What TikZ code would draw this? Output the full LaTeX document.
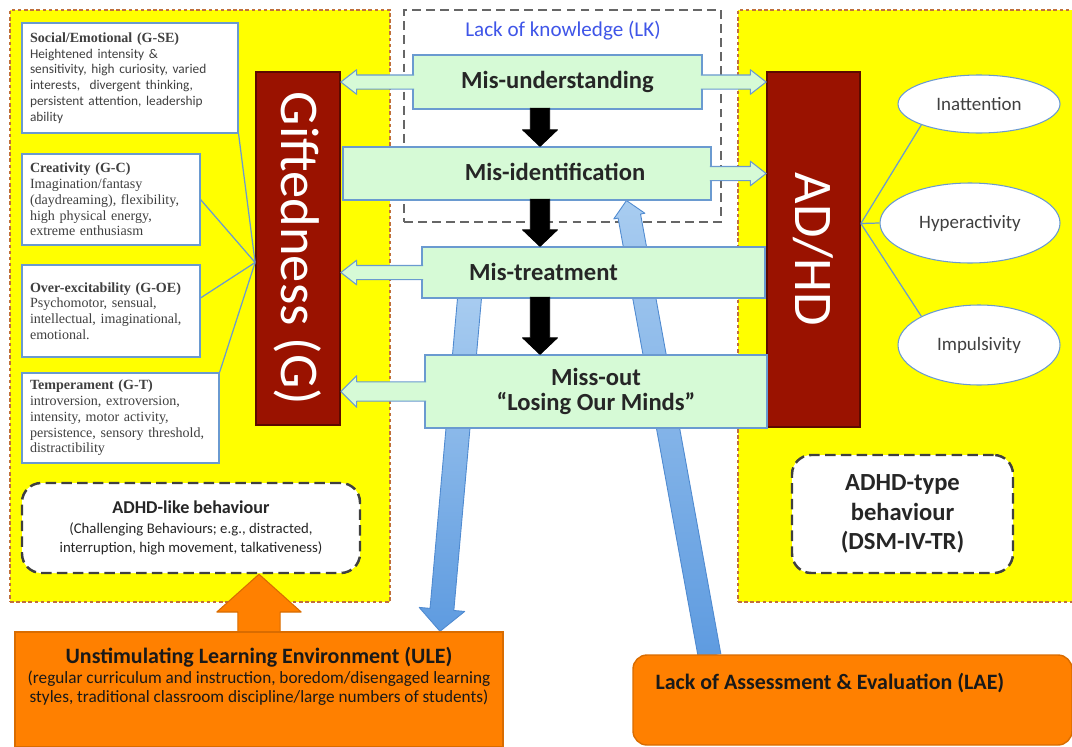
\documentclass[tikz,border=0pt]{standalone}
\usepackage{fontspec}
\setmainfont{Carlito}
\newfontfamily\serifbox{Liberation Serif}
\usepackage{graphicx}
\usepackage{tikz}
\usetikzlibrary{positioning,calc,shapes.geometric}
\pgfdeclarelayer{bg}
\pgfsetlayers{bg,main}
\definecolor{GYellow}{HTML}{FFFF00}
\definecolor{GZone}{HTML}{C0703C}
\definecolor{GMint}{HTML}{D6FAD6}
\definecolor{GLine}{HTML}{6A9AD0}
\definecolor{GRed}{HTML}{9A1200}
\definecolor{GRedDark}{HTML}{5C0A00}
\definecolor{GSky}{HTML}{A8CCF0}
\definecolor{GSkyDeep}{HTML}{5E9BE0}
\definecolor{GSkyDark}{HTML}{4F8AD0}
\definecolor{GOrange}{HTML}{FF8000}
\definecolor{GOrangeDark}{HTML}{D96C00}
\definecolor{GText}{HTML}{404040}
\definecolor{GKnow}{HTML}{3F55E8}

\newcommand{\blockarrow}[6]{%
  \coordinate (bah) at ($(#3)!#6!(#2)$);
  \coordinate (bas) at ($(#2)!-1pt!(#3)$);
  \path[#1, draw=none] ($(bas)!#4!90:(#3)$) -- ($(bah)!#4!90:(#3)$) -- ($(bah)!#5!90:(#3)$) -- (#3) -- ($(bah)!#5!-90:(#3)$) -- ($(bah)!#4!-90:(#3)$) -- ($(bas)!#4!-90:(#3)$) -- cycle;
  \path[draw=none, #1, fill=none, shade=false, line join=round] ($(bas)!#4!90:(#3)$) -- ($(bah)!#4!90:(#3)$) -- ($(bah)!#5!90:(#3)$) -- (#3) -- ($(bah)!#5!-90:(#3)$) -- ($(bah)!#4!-90:(#3)$) -- ($(bas)!#4!-90:(#3)$);
}

\begin{document}
\begin{tikzpicture}[x=0.02cm, y=-0.02cm,
  dims/.style 2 args={minimum width=#1*0.02cm, minimum height=#2*0.02cm},
  zone/.style={draw=GZone, fill=GYellow, dash pattern=on 2pt off 1.5pt, line width=0.8pt},
  know/.style={draw=black!60, fill=white, dash pattern=on 5pt off 3pt, line width=1.2pt},
  pillar/.style={draw=GRedDark, fill=GRed, line width=1pt, text=white, inner sep=0, font=\fontsize{31}{34}\selectfont},
  mistext/.style={text=black!85, font=\fontsize{14}{14.5}\selectfont\bfseries},
  greenbox/.style={mistext, draw=GLine, fill=GMint, line width=0.6pt, inner sep=0, align=center},
  greenarrow/.style={draw=GLine, fill=GMint, line width=0.6pt},
  flow/.style={draw=black, fill=black, line width=0.4pt},
  sky/.style={draw=GSkyDark, top color=GSky, bottom color=GSkyDeep, line width=0.5pt},
  orangearrow/.style={draw=GOrangeDark, fill=GOrange, line width=0.6pt},
  trait/.style={draw=GLine, fill=white, line width=0.6pt, align=left, inner xsep=0.16cm, inner ysep=0, text=GText, font=\serifbox\fontsize{8}{9}\selectfont},
  link/.style={draw=GLine, line width=0.7pt},
  symptom/.style={ellipse, draw=GLine, fill=white, line width=0.6pt, inner sep=0, text=GText, font=\fontsize{10.8}{12}\selectfont},
  behave/.style={draw=black!75, fill=white, rounded corners=11pt, dash pattern=on 6pt off 3pt, line width=1.4pt, align=center, inner sep=0, text=black!85},
  orangebox/.style={draw=GOrangeDark, fill=GOrange, line width=0.8pt, inner sep=0},
  otext/.style={text=black!90, align=center, font=\fontsize{9.8}{11}\selectfont}
]
  \useasboundingbox (0,0) rectangle (1072,747);

  \node[pillar, dims={84}{353}] (gift) at (298,248.5) {\rotatebox{-90}{Giftedness (G)}};
  \node[pillar, dims={93}{355}] (adhd) at (813.5,249.5) {\rotatebox{-90}{AD/HD}};
  \node[text=GKnow, font=\fontsize{12}{14}\selectfont] (lkt) at (563,31) {Lack of knowledge (LK)};

  \node[greenbox, dims={289}{54}] (mu) at (557.5,82) {Mis-understanding};
  \node[greenbox, dims={368}{53}] (mi) at (527,173.5) {};
  \node[greenbox, dims={343}{51}] (mt) at (593.5,272.5) {};
  \node[greenbox, dims={342}{73}] (mo) at (596,391.5) {Miss-out\\“Losing Our Minds”};
  \node[mistext] (mit) at ($(mi)+(28,-2)$) {Mis-identification};
  \node[mistext] (mtt) at ($(mt)+(-50,-1)$) {Mis-treatment};

  \blockarrow{greenarrow}{mu.west}{gift.east |- mu.west}{4pt}{7pt}{9pt}
  \blockarrow{greenarrow}{mu.east}{adhd.west |- mu.east}{4pt}{7pt}{9pt}
  \blockarrow{greenarrow}{mi.east}{adhd.west |- mi.east}{4pt}{7pt}{9pt}
  \blockarrow{greenarrow}{mt.west}{gift.east |- mt.west}{4pt}{7pt}{9pt}
  \blockarrow{greenarrow}{mo.west}{gift.east |- mo.west}{5.5pt}{9pt}{9pt}

  \coordinate (col) at (540,0);
  \blockarrow{flow}{mu.south -| col}{mi.north -| col}{5.5pt}{10pt}{9.5pt}
  \blockarrow{flow}{mi.south -| col}{mt.north -| col}{5.5pt}{10pt}{9.5pt}
  \blockarrow{flow}{mt.south -| col}{mo.north -| col}{5.5pt}{10pt}{9.5pt}

  \node[trait, text width=4cm, dims={216}{110}] (gse) at (130,78) {{\bfseries Social/Emotional (G-SE)}\\{\rmfamily\fontsize{7.6}{9}\selectfont Heightened intensity \&\\sensitivity, high curiosity, varied\\interests,\ \ divergent thinking,\\persistent attention, leadership\\ability}};
  \node[trait, text width=3.24cm, dims={178}{91}] (gc) at (111,199.5) {{\bfseries Creativity (G-C)}\\Imagination/fantasy\\(daydreaming), flexibility,\\high physical energy,\\extreme enthusiasm};
  \node[trait, text width=3.24cm, dims={178}{92}] (goe) at (111,311) {{\bfseries Over-excitability (G-OE)}\\Psychomotor, sensual,\\intellectual, imaginational,\\emotional.};
  \node[trait, text width=3.62cm, dims={197}{90}] (gt) at (120.5,418) {{\bfseries Temperament (G-T)}\\introversion, extroversion,\\intensity, motor activity,\\persistence, sensory threshold,\\distractibility};

  \coordinate (gj) at ($(gift.west)+(0,14)$);
  \draw[link] (gse.south east) -- (gj);
  \draw[link] (gc.east) -- (gj);
  \draw[link] ($(goe.north east)!0.36!(goe.south east)$) -- (gj);
  \draw[link] (gt.north east) -- (gj);

  \node[symptom, dims={162}{58}] (ina) at (979,104) {Inattention};
  \node[symptom, dims={180}{80}] (hyp) at (970,223) {Hyperactivity};
  \node[symptom, dims={162}{80}] (imp) at (979,345) {Impulsivity};
  \coordinate (aj) at ($(adhd.east)+(0,-26)$);
  \draw[link] (aj) -- (ina.south west);
  \draw[link] (aj) -- (hyp.west);
  \draw[link] (aj) -- (imp.north west);

  \node[behave, dims={338}{90}, font=\fontsize{8.4}{11}\selectfont] (alike) at (191,528) {{\fontsize{10.3}{12}\selectfont\bfseries ADHD-like behaviour}\\(Challenging Behaviours; e.g., distracted,\\interruption, high movement, talkativeness)};
  \node[behave, dims={221}{118}, font=\fontsize{14}{17}\selectfont\bfseries] (atype) at (902.5,514) {ADHD-type\\behaviour\\(DSM-IV-TR)};

  \node[orangebox, dims={488}{115}] (ule) at (259,689.5) {};
  \node[otext] (ulet) at ($(ule)+(0,-13)$) {{\fontsize{12.5}{13}\selectfont\bfseries Unstimulating Learning Environment (ULE)}\\(regular curriculum and instruction, boredom/disengaged learning\\styles, traditional classroom discipline/large numbers of students)};
  \node[orangebox, rounded corners=8pt, dims={439}{90}] (lae) at (852.5,700) {};
  \node[text=black!90, font=\fontsize{12.5}{14}\selectfont\bfseries, anchor=west] (laet) at ($(lae.west)+(17,-17)$) {Lack of Assessment \& Evaluation (LAE)};

  \begin{pgfonlayer}{bg}
    \node[zone, dims={380}{592}] (gzone) at (200,306) {};
    \node[zone, dims={340}{592}] (azone) at (908,306) {};
    \node[know, dims={317}{212}] (lk) at (562.5,116) {};
    \coordinate (ulefrom) at ($(mt.south west)+(48,0)$);
    \coordinate (uleto) at ($(ule.north)+(181,0)$);
    \blockarrow{sky}{ulefrom}{uleto}{6.8pt}{13pt}{12.5pt}
    \coordinate (laefrom) at ($(lae.north west)+(77,0)$);
    \coordinate (laeto) at ($(mi.south west)+(284,0)$);
    \blockarrow{sky}{laefrom}{laeto}{6.5pt}{9pt}{9pt}
    \blockarrow{orangearrow}{ule.north}{ule.north |- alike.south}{12pt}{24pt}{21.5pt}
  \end{pgfonlayer}
\end{tikzpicture}
\end{document}
